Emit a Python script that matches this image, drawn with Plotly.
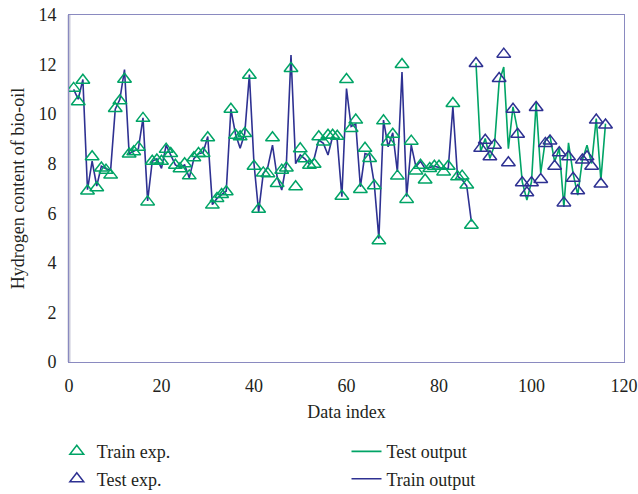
import plotly.graph_objects as go

# ---- data ----
train_idx = list(range(1, 88))
test_idx = list(range(88, 117))

train_exp = [11.04, 10.5, 11.37, 6.9, 8.28, 7.03, 7.83, 7.74, 7.54, 10.23,
             10.54, 11.41, 8.39, 8.48, 8.66, 9.83, 6.46, 8.1, 8.15, 8.1,
             8.58, 8.41, 7.94, 7.8, 8.0, 7.51, 8.24, 8.41, 8.41, 9.05,
             6.33, 6.6, 6.76, 6.87, 10.2, 9.15, 9.09, 9.22, 11.57, 7.9,
             6.16, 7.63, 7.6, 9.05, 7.2, 7.74, 7.83, 11.84, 7.07, 8.6,
             8.2, 7.94, 7.98, 9.09, 8.88, 9.15, 9.15, 9.11, 6.69, 11.4,
             9.42, 9.76, 6.96, 8.62, 8.21, 7.11, 4.89, 9.73, 8.88, 9.19,
             7.5, 12.0, 6.56, 8.91, 7.71, 7.94, 7.34, 7.81, 7.9, 7.9,
             7.67, 7.9, 10.43, 7.47, 7.5, 7.14, 5.52]

train_out = [11.0, 10.6, 11.4, 6.95, 8.1, 7.1, 7.9, 7.8, 7.74, 10.2,
             10.6, 11.8, 8.4, 8.5, 8.6, 9.85, 6.5, 8.1, 8.2, 7.81,
             8.75, 8.35, 7.95, 7.85, 7.95, 7.43, 8.2, 8.4, 8.45, 9.1,
             6.35, 6.6, 6.75, 6.9, 10.2, 9.2, 8.62, 9.22, 11.6, 8.0,
             6.06, 7.6, 7.88, 8.75, 7.47, 6.94, 8.0, 12.38, 8.0, 8.35,
             8.2, 7.98, 8.2, 8.95, 8.82, 8.35, 9.1, 8.95, 6.67, 11.03,
             9.5, 9.6, 7.07, 8.41, 8.35, 7.2, 4.98, 9.76, 8.68, 9.25,
             7.67, 11.7, 6.67, 8.75, 7.88, 8.1, 7.8, 7.85, 7.9, 7.85,
             7.8, 7.81, 10.3, 7.5, 7.35, 7.1, 5.66]

test_exp = [12.04, 8.62, 8.95, 8.28, 8.75, 11.44, 12.42, 8.04, 10.2, 9.19,
            7.23, 6.83, 7.23, 10.27, 7.36, 8.82, 8.92, 7.9, 8.44, 6.42,
            8.28, 7.41, 6.91, 8.15, 8.28, 7.9, 9.76, 7.18, 9.56]

test_out = [12.05, 8.48, 9.02, 8.21, 8.75, 11.3, 11.9, 8.61, 10.29, 9.35,
            7.27, 6.53, 7.27, 10.46, 7.63, 8.95, 9.11, 8.08, 8.62, 6.26,
            8.84, 7.6, 6.73, 8.15, 8.75, 8.01, 9.82, 7.34, 9.62]

x_ticks = [0, 20, 40, 60, 80, 100, 120]
y_ticks = [0, 2, 4, 6, 8, 10, 12, 14]

GREEN = "#00a466"
NAVY = "#2e3192"
FONT = "Liberation Serif"

fig = go.Figure()

fig.add_trace(go.Scatter(x=train_idx, y=train_out, mode="lines", name="Train output",
                         line=dict(color=NAVY, width=1.6), legend="legend2",
                         legendgroup="d", legendrank=4))
fig.add_trace(go.Scatter(x=test_idx, y=test_out, mode="lines", name="Test output",
                         line=dict(color=GREEN, width=1.6), legend="legend2",
                         legendgroup="c", legendrank=3))
fig.add_trace(go.Scatter(x=train_idx, y=train_exp, mode="markers", name="Train exp.",
                         marker=dict(symbol="triangle-up-open", size=12, color=GREEN,
                                     line=dict(width=1.5)),
                         legendgroup="a", legendrank=1))
fig.add_trace(go.Scatter(x=test_idx, y=test_exp, mode="markers", name="Test exp.",
                         marker=dict(symbol="triangle-up-open", size=12, color=NAVY,
                                     line=dict(width=1.5)),
                         legendgroup="b", legendrank=2))

fig.update_layout(
    width=638, height=494,
    margin=dict(l=69, r=14, t=15, b=132, autoexpand=False),
    paper_bgcolor="white", plot_bgcolor="white",
    font=dict(family=FONT, size=17, color="#231f20"),
    showlegend=True,
    legend=dict(x=-0.022, y=-0.205, xanchor="left", yanchor="top",
                orientation="v", traceorder="grouped", tracegroupgap=1,
                font=dict(family=FONT, size=18), bgcolor="rgba(0,0,0,0)"),
    legend2=dict(x=0.50, y=-0.205, xanchor="left", yanchor="top",
                 orientation="v", traceorder="grouped", tracegroupgap=1,
                 font=dict(family=FONT, size=18), bgcolor="rgba(0,0,0,0)"),
    xaxis=dict(range=[0, 120], tickvals=x_ticks, showgrid=False, zeroline=False,
               showline=True, linecolor="#8a8ac0", linewidth=1, mirror=True,
               ticks="outside", ticklen=7, tickcolor="rgba(0,0,0,0)",
               tickfont=dict(size=18), automargin=False,
               title=dict(text="Data index", font=dict(size=18), standoff=10)),
    yaxis=dict(range=[0, 14], tickvals=y_ticks, showgrid=False, zeroline=False,
               showline=True, linecolor="#8a8ac0", linewidth=1, mirror=True,
               ticks="outside", ticklen=8, tickcolor="rgba(0,0,0,0)",
               tickfont=dict(size=18), automargin=False,
               title=dict(text="Hydrogen content of bio-oil", font=dict(size=18), standoff=9)),
)
fig.add_shape(type="line", xref="paper", yref="paper", x0=0, x1=0, y0=0, y1=1,
              line=dict(color="#c9c9d9", width=3), layer="below")

fig.write_html("out.html", config={"displayModeBar": False},
               post_script="document.body.style.margin='0';document.body.style.padding='0';")
